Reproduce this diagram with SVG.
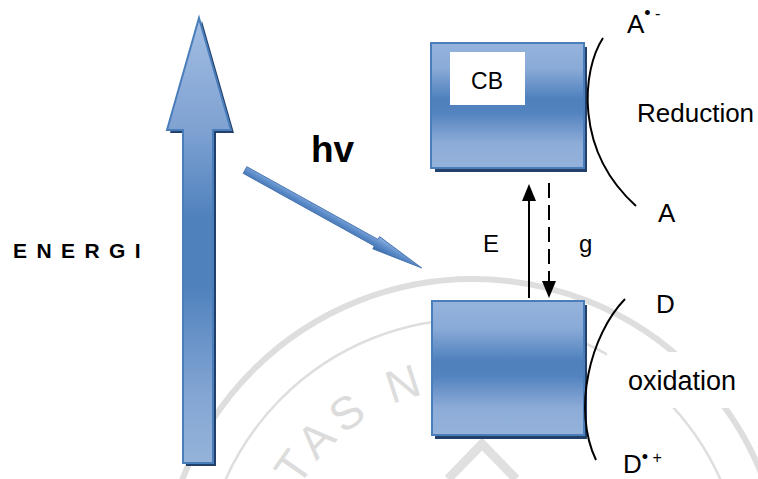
<svg xmlns="http://www.w3.org/2000/svg" width="758" height="479" viewBox="0 0 758 479">
  <defs>
    <style>
      .lbl { font-family: "Liberation Sans", Arial, sans-serif; fill: #000; }
      .bold { font-weight: bold; }
      .band { stroke: #4a7ebb; stroke-width: 2; }
      .shadow { fill: #23406a; }
      .line { stroke: #000; stroke-width: 2; fill: none; }
      .wm { fill: none; stroke: #dedede; }
    </style>
    <linearGradient id="gBox" x1="0" y1="0" x2="0" y2="1">
      <stop offset="0" stop-color="#95b3dc"/>
      <stop offset="0.2" stop-color="#8aabd8"/>
      <stop offset="0.45" stop-color="#4e80bd"/>
      <stop offset="0.56" stop-color="#5383bf"/>
      <stop offset="0.8" stop-color="#8dacd8"/>
      <stop offset="1" stop-color="#94b2da"/>
    </linearGradient>
    <linearGradient id="gEnergy" gradientUnits="userSpaceOnUse" x1="0" y1="18" x2="0" y2="463">
      <stop offset="0" stop-color="#a2bde2"/>
      <stop offset="0.25" stop-color="#7fa2d2"/>
      <stop offset="0.45" stop-color="#4f81bd"/>
      <stop offset="0.6" stop-color="#4f81bd"/>
      <stop offset="0.85" stop-color="#84a6d4"/>
      <stop offset="1" stop-color="#95b3d9"/>
    </linearGradient>
    <linearGradient id="gPhoton" x1="0" y1="0" x2="0" y2="1">
      <stop offset="0" stop-color="#8fb2e2"/>
      <stop offset="0.5" stop-color="#5b8bc8"/>
      <stop offset="1" stop-color="#3b6ba8"/>
    </linearGradient>
    <path id="wmArc" d="M274.1,554.9 A202,202 0 0 1 671.9,554.9"/>
  </defs>

  <rect width="758" height="479" fill="#fff"/>

  <!-- faint seal in the background -->
  <g id="watermark">
    <circle class="wm" cx="473" cy="590" r="311" stroke-width="6"/>
    <circle class="wm" cx="473" cy="590" r="271" stroke-width="2.5"/>
    <text font-family="Liberation Sans, Arial, sans-serif" font-size="46" fill="#dcdcdc" letter-spacing="7">
      <textPath href="#wmArc" startOffset="52">ITAS N</textPath>
    </text>
    <polyline points="448,479 482,444 516,479" fill="none" stroke="#e0e0e0" stroke-width="9"/>
  </g>

  <!-- white backings behind the right-hand labels -->
  <rect x="607" y="352" width="151" height="56" fill="#fff"/>
  <rect x="610" y="440" width="70" height="39" fill="#fff"/>

  <!-- energy axis arrow -->
  <g id="energy-arrow">
    <polygon class="shadow" points="202,21 234,133 216,133 216,466 186,466 186,133 170,133"/>
    <polygon class="band" fill="url(#gEnergy)" points="199,18 231,130 213,130 213,463 183,463 183,130 167,130"/>
  </g>

  <!-- conduction band -->
  <g id="conduction-band">
    <rect class="shadow" x="435" y="47" width="152" height="125"/>
    <rect class="band" x="431" y="43" width="153" height="125" fill="url(#gBox)"/>
    <rect x="450" y="52" width="75" height="53" fill="#fff"/>
    <text class="lbl" x="487" y="89" font-size="23" text-anchor="middle">CB</text>
  </g>

  <!-- valence band -->
  <g id="valence-band">
    <rect class="shadow" x="435" y="305" width="152" height="134"/>
    <rect class="band" x="432" y="301" width="152" height="134" fill="url(#gBox)"/>
  </g>

  <g id="connectors">
    <!-- incoming photon -->
    <g transform="translate(245,170) rotate(29)">
      <polygon fill="url(#gPhoton)" stroke="#3d6cab" stroke-width="0.8" points="0,-3.8 150,-3.8 150,-7 202,0 150,7 150,3.8 0,3.8"/>
    </g>
    <!-- excitation (E) -->
    <line class="line" x1="529" y1="198" x2="529" y2="298"/>
    <polygon points="529,184 522,201 536,201" fill="#000"/>
    <!-- relaxation across the gap (g) -->
    <line class="line" x1="549" y1="183" x2="549" y2="282" stroke-dasharray="15 7"/>
    <polygon points="549,298 542,281 556,281" fill="#000"/>
    <!-- reduction and oxidation curves -->
    <path class="line" stroke-width="1.6" d="M603,38 C582,70 574,150 636,206"/>
    <path class="line" stroke-width="1.6" d="M625,299 C590,335 572,410 596,460"/>
  </g>

  <g id="labels">
    <text class="lbl bold" x="13" y="258" font-size="21" letter-spacing="1.8">E N E R G I</text>
    <text class="lbl bold" x="311" y="162" font-size="37">hv</text>
    <text class="lbl" x="483" y="252" font-size="24">E</text>
    <text class="lbl" x="579" y="252" font-size="24">g</text>
    <text class="lbl" x="627" y="33" font-size="26">A<tspan font-size="18" dy="-14">•</tspan><tspan font-size="16"> -</tspan></text>
    <text class="lbl" x="637" y="122" font-size="26">Reduction</text>
    <text class="lbl" x="658" y="222" font-size="26">A</text>
    <text class="lbl" x="656" y="313" font-size="26">D</text>
    <text class="lbl" x="628" y="390" font-size="27">oxidation</text>
    <text class="lbl" x="623" y="473" font-size="26">D<tspan font-size="18" dy="-10">•</tspan><tspan font-size="16"> +</tspan></text>
  </g>
</svg>
